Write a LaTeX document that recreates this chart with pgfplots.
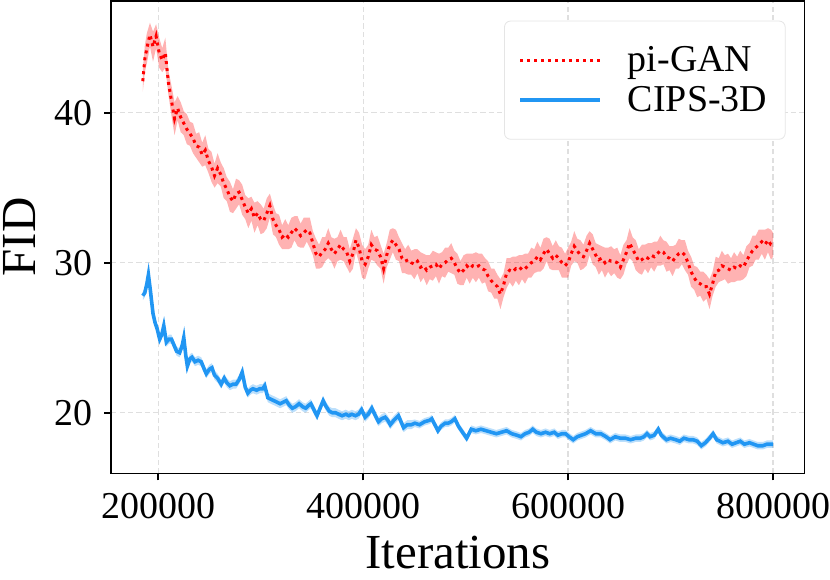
\documentclass[border=0pt]{standalone}
\usepackage{fontspec}
\setmainfont{Liberation Serif}
\usepackage{pgfplots}
\pgfplotsset{compat=1.18}
\usepackage{pgfplotstable}
\usepgfplotslibrary{fillbetween}

\definecolor{pgred}{RGB}{255,0,0}
\definecolor{cipsblue}{RGB}{33,150,243}

% pi-GAN: iteration, mean FID, half width of band
\pgfplotstableread{
x y e
185000 42.1 0.7
187000 43.6 0.9
189000 44.3 1.0
192000 45.2 0.8
195000 44.4 1.0
198000 45.1 0.8
201000 44.0 1.0
204000 43.5 0.8
207000 44.0 1.0
210000 42.0 0.8
213000 40.8 1.0
216000 39.6 1.1
219000 40.3 0.8
222000 39.7 1.0
225000 39.3 0.8
228000 38.9 1.0
231000 38.6 0.8
234000 38.3 1.0
237000 37.8 0.8
240000 37.7 1.0
243000 37.2 0.8
246000 37.5 1.0
249000 36.8 0.8
252000 36.4 1.0
255000 35.8 0.8
258000 36.3 1.0
261000 35.9 0.8
264000 35.3 1.0
267000 34.9 0.8
270000 34.4 1.0
273000 34.1 0.8
276000 34.6 1.0
279000 34.7 0.8
282000 34.2 1.0
285000 33.7 0.8
288000 33.3 1.0
291000 33.6 0.8
294000 33.0 1.0
297000 33.3 0.8
300000 32.9 1.0
303000 32.8 0.8
306000 33.3 1.0
309000 33.8 0.8
312000 32.9 1.0
315000 32.5 0.8
318000 32.2 1.0
321000 31.7 0.8
324000 31.9 1.0
327000 31.7 0.8
330000 32.0 1.0
333000 32.3 0.8
336000 32.1 1.0
339000 31.8 0.8
342000 32.0 1.0
345000 32.2 0.8
348000 32.0 1.0
351000 31.3 0.8
354000 30.6 1.0
357000 30.4 0.8
360000 30.7 1.0
363000 30.9 0.8
366000 31.3 1.0
369000 30.9 0.8
372000 30.6 1.0
375000 30.9 0.8
378000 31.2 1.0
381000 30.9 0.8
384000 30.7 1.0
387000 30.1 0.8
390000 30.6 1.0
393000 31.5 0.8
396000 31.0 1.0
399000 30.1 1.1
402000 29.9 1.0
405000 30.4 0.8
408000 31.2 1.0
411000 30.9 0.8
414000 30.8 1.0
417000 30.4 0.8
420000 29.6 1.0
423000 30.5 0.8
426000 31.2 1.0
429000 31.5 0.8
432000 31.2 1.0
435000 30.9 0.8
438000 30.3 1.0
441000 30.1 0.8
444000 30.2 1.0
447000 30.0 0.8
450000 29.9 1.0
453000 30.1 0.8
456000 29.7 1.0
459000 29.8 0.8
462000 29.5 1.0
465000 29.7 0.8
468000 29.8 1.0
471000 29.9 0.8
474000 29.6 1.0
477000 29.9 0.8
480000 30.0 1.0
483000 30.2 0.8
486000 30.3 1.0
489000 30.0 0.8
492000 29.6 1.0
495000 29.3 0.8
498000 29.5 1.0
501000 29.8 0.8
504000 29.6 1.0
507000 29.8 0.8
510000 29.7 1.0
513000 29.8 0.8
516000 29.6 1.0
519000 29.5 0.8
522000 29.1 1.0
525000 28.8 0.8
528000 28.6 1.0
531000 28.4 0.8
534000 27.9 1.0
537000 28.5 0.8
540000 29.3 1.0
543000 29.5 0.8
546000 29.4 1.0
549000 29.6 0.8
552000 29.5 1.0
555000 29.7 0.8
558000 29.6 1.0
561000 29.8 0.8
564000 30.0 1.0
567000 30.1 0.8
570000 30.4 1.0
573000 30.2 0.8
576000 30.6 1.0
579000 30.9 0.8
582000 30.6 1.0
585000 30.3 0.8
588000 30.5 1.0
591000 30.3 0.8
594000 30.0 1.0
597000 29.8 0.8
600000 30.0 1.0
603000 30.6 0.8
606000 31.1 1.0
609000 30.8 0.8
612000 30.5 1.0
615000 30.4 0.8
618000 30.8 1.0
621000 31.3 0.8
624000 30.9 1.0
627000 30.5 0.8
630000 30.2 1.0
633000 30.3 0.8
636000 30.0 1.0
639000 30.2 0.8
642000 30.1 1.0
645000 30.1 0.8
648000 30.0 1.0
651000 29.7 0.8
654000 30.2 1.0
657000 30.7 0.8
660000 31.3 1.0
663000 30.9 0.8
666000 30.5 1.0
669000 30.1 0.8
672000 30.2 1.0
675000 30.4 0.8
678000 30.3 1.0
681000 30.5 0.8
684000 30.4 1.0
687000 30.6 0.8
690000 30.8 1.0
693000 30.7 0.8
696000 30.4 1.0
699000 30.3 0.8
702000 30.1 1.0
705000 30.4 0.8
708000 30.6 1.0
711000 30.7 0.8
714000 30.5 1.0
717000 30.0 0.8
720000 29.4 1.0
723000 29.0 0.8
726000 28.7 1.0
729000 28.6 0.8
732000 28.4 1.0
735000 28.4 0.8
738000 27.9 1.0
741000 28.6 0.8
744000 29.4 1.0
747000 29.5 0.8
750000 29.8 1.0
753000 29.7 0.8
756000 29.6 1.0
759000 29.5 0.8
762000 29.7 1.0
765000 29.6 0.8
768000 29.8 1.0
771000 29.7 0.8
774000 30.1 1.0
777000 30.5 0.8
780000 30.8 1.0
783000 31.0 0.8
786000 31.2 1.0
789000 31.4 0.8
792000 31.2 1.0
795000 31.5 0.8
798000 31.2 1.0
800000 31.2 0.8
}\pigan

% CIPS-3D: iteration, mean FID, half width of band
\pgfplotstableread{
x y e
185000 27.8 0.3
187000 28.0 0.3
189000 28.6 0.3
190500 29.2 0.3
192500 28.1 0.3
195000 26.6 0.3
197000 26.0 0.3
199000 25.6 0.3
201500 24.9 0.3
203500 25.2 0.3
205500 25.8 0.3
208000 24.7 0.3
210500 24.9 0.3
213000 24.9 0.3
215500 24.5 0.3
218000 24.1 0.3
221000 24.0 0.3
223500 24.5 0.3
225000 25.0 0.3
227000 23.8 0.3
228500 23.1 0.3
231000 23.6 0.3
233000 23.7 0.3
236000 23.4 0.3
239000 23.5 0.3
242000 23.4 0.3
245000 22.9 0.3
247000 22.6 0.3
250000 22.9 0.3
252500 23.0 0.3
255000 22.5 0.3
258000 22.3 0.3
261500 21.9 0.3
264500 22.3 0.3
267000 22.0 0.3
270000 21.8 0.3
273000 21.9 0.3
276000 21.9 0.3
279000 22.2 0.3
282000 22.7 0.3
285000 21.7 0.3
287500 21.3 0.3
290000 21.5 0.3
292500 21.6 0.3
296000 21.5 0.3
299000 21.6 0.3
302000 21.6 0.3
304000 21.8 0.3
307000 21.0 0.3
310000 20.9 0.3
313000 20.8 0.3
316000 20.7 0.3
319000 20.6 0.3
322000 20.7 0.3
325000 20.8 0.3
328000 20.5 0.3
331000 20.3 0.3
334000 20.4 0.3
337500 20.6 0.3
341000 20.4 0.3
344000 20.3 0.3
347000 20.5 0.3
349000 20.6 0.3
352000 20.2 0.3
355000 19.8 0.3
358000 20.3 0.3
361000 20.8 0.3
364000 20.4 0.3
367000 20.1 0.3
370000 20.0 0.3
373000 20.0 0.3
376000 19.9 0.3
379500 19.8 0.3
383000 19.9 0.3
386000 19.8 0.3
389000 19.9 0.3
392500 19.8 0.3
395500 19.9 0.3
398500 20.2 0.3
402000 19.7 0.3
405000 19.9 0.3
408500 20.3 0.3
412000 19.8 0.3
415000 19.4 0.3
418000 19.6 0.3
421500 19.7 0.3
424000 19.5 0.3
426500 19.2 0.3
430000 19.5 0.3
434500 19.8 0.3
437000 19.4 0.3
439500 19.0 0.3
443000 19.2 0.3
447000 19.2 0.3
450500 19.3 0.25
455000 19.2 0.25
460000 19.4 0.25
465000 19.5 0.25
467000 19.6 0.25
470000 19.2 0.25
473000 18.8 0.25
476000 19.1 0.25
480000 19.3 0.25
483000 19.3 0.25
486000 19.4 0.25
489500 19.6 0.25
493000 19.1 0.25
497000 18.7 0.25
501000 18.3 0.25
505500 18.9 0.25
510000 18.8 0.25
515000 18.9 0.25
520000 18.8 0.25
525000 18.7 0.25
530000 18.6 0.25
535000 18.7 0.25
540000 18.8 0.25
545000 18.6 0.25
550000 18.5 0.25
554000 18.4 0.25
558000 18.6 0.25
562000 18.7 0.25
565500 18.9 0.25
569000 18.7 0.25
573500 18.6 0.25
578000 18.7 0.25
582000 18.6 0.25
586500 18.7 0.25
590000 18.5 0.25
594000 18.6 0.25
597500 18.6 0.25
601000 18.4 0.25
605000 18.2 0.25
609000 18.4 0.25
613000 18.5 0.25
617000 18.6 0.25
622000 18.8 0.25
627000 18.6 0.25
632000 18.6 0.25
637000 18.4 0.25
641000 18.2 0.25
646000 18.4 0.25
651000 18.3 0.25
656000 18.3 0.25
661000 18.2 0.25
666000 18.3 0.25
670500 18.3 0.25
674000 18.4 0.25
677000 18.6 0.25
680000 18.4 0.25
684000 18.5 0.25
688000 18.9 0.25
691000 18.5 0.25
696000 18.2 0.25
700000 18.3 0.25
705000 18.2 0.25
709000 18.1 0.25
713000 18.3 0.25
718000 18.2 0.25
722000 18.2 0.25
726000 18.1 0.25
730000 17.8 0.25
734000 18.0 0.25
738000 18.3 0.25
741500 18.6 0.25
745000 18.2 0.25
751000 18.0 0.25
756000 18.1 0.25
760000 17.9 0.25
764000 18.0 0.25
768000 18.1 0.25
772000 17.9 0.25
777000 18.0 0.25
781000 17.9 0.25
785000 17.8 0.25
790000 17.8 0.25
794000 17.9 0.25
798000 17.9 0.25
800000 17.9 0.25
}\cips

\begin{document}
\begin{tikzpicture}
\begin{axis}[
  scale only axis, width=347pt, height=236.5pt,
  xmin=154250, xmax=830750, ymin=15.96, ymax=47.46,
  scaled x ticks=false, scaled y ticks=false,
  xtick={200000,400000,600000,800000},
  xticklabels={200000,400000,600000,800000},
  ytick={20,30,40}, yticklabels={20,30,40},
  xtick pos=bottom, ytick pos=left,
  tick align=outside, major tick length=3.5pt,
  tick style={black, line width=0.8pt},
  axis line style={line width=0.8pt},
  ticklabel style={font=\fontsize{19}{22}\selectfont, inner sep=0pt},
  xticklabel style={anchor=north, yshift=-6.5pt},
  yticklabel style={anchor=east, xshift=-5.8pt},
  xlabel={Iterations}, ylabel={FID},
  every axis x label/.style={at={(rel axis cs:0.5,0)}, anchor=base,
    yshift=-47.5pt, inner xsep=0pt, inner ysep=5.5pt,
    font=\fontsize{24.5}{28}\selectfont},
  every axis y label/.style={at={([xshift=-37.9pt]rel axis cs:0,0.5)},
    rotate=90, anchor=south, inner xsep=0pt, inner ysep=1.5pt, yshift=-1.5pt,
    font=\fontsize{24.5}{28}\selectfont},
  grid=major,
  major grid style={gray!25, line width=0.6pt, dash pattern=on 2.6pt off 1.6pt},
  legend image code/.code={\draw[#1] (0pt,0pt) -- (40pt,0pt);},
  legend style={at={(0.9726,0.958)}, anchor=north east, draw=gray!20,
    rounded corners=3pt, font=\fontsize{19}{22}\selectfont,
    inner xsep=7pt, inner ysep=10.5pt, row sep=2pt,
    /tikz/every odd column/.append style={column sep=11pt}},
  legend cell align=left,
]
\addplot[draw=none, name path=ru, forget plot] table[x=x, y expr=\thisrow{y}+\thisrow{e}] {\pigan};
\addplot[draw=none, name path=rl, forget plot] table[x=x, y expr=\thisrow{y}-\thisrow{e}] {\pigan};
\addplot[pgred, fill opacity=0.3, forget plot] fill between[of=ru and rl];
\addplot[draw=none, name path=bu, forget plot] table[x=x, y expr=\thisrow{y}+\thisrow{e}] {\cips};
\addplot[draw=none, name path=bl, forget plot] table[x=x, y expr=\thisrow{y}-\thisrow{e}] {\cips};
\addplot[cipsblue, fill opacity=0.3, forget plot] fill between[of=bu and bl];
\addplot[pgred, line width=1.5pt, dash pattern=on 1.5pt off 2pt] table[x=x, y=y] {\pigan};
\addlegendentry{pi-GAN}
\addplot[cipsblue, line width=1.8pt] table[x=x, y=y] {\cips};
\addlegendentry{CIPS-3D}
\end{axis}
\end{tikzpicture}
\end{document}
